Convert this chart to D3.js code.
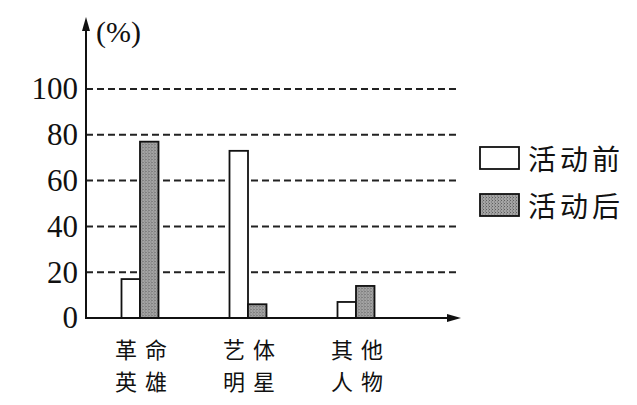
<!DOCTYPE html>
<html>
<head>
<meta charset="utf-8">
<script src="https://cdn.jsdelivr.net/npm/d3@7"></script>
<style>
  body { margin: 0; background: #fff; }
  svg { display: block; }
  .serif { font-family: "Liberation Serif", "Times New Roman", "DejaVu Serif", serif; }
</style>
</head>
<body>
<div id="chart"></div>
<script>
// data
const categories = [['革命', '英雄'], ['艺体', '明星'], ['其他', '人物']]
const series = ['活动前', '活动后']
const before = [17, 73, 7]
const after = [77, 6, 14]
const yTicks = [0, 20, 40, 60, 80, 100]

const width = 637, height = 405
const x0 = 86, yBase = 318

const svg = d3.select('#chart')
  .append('svg')
    .attr('width', width)
    .attr('height', height)

// stipple for the grey bars
const defs = svg.append('defs')
const pat = defs.append('pattern')
  .attr('id', 'dots')
  .attr('width', 3)
  .attr('height', 3)
  .attr('patternUnits', 'userSpaceOnUse')
pat.append('rect').attr('width', 3).attr('height', 3).attr('fill', '#a4a4a4')
pat.append('rect').attr('x', 0).attr('y', 0).attr('width', 1).attr('height', 1).attr('fill', '#5e5e5e')
pat.append('rect').attr('x', 2).attr('y', 1.5).attr('width', 1).attr('height', 1).attr('fill', '#6e6e6e')

const catKeys = categories.map(c => c.join(''))

const yScale = d3.scaleLinear()
  .domain([0, 100])
  .range([yBase, 89])

const xScale = d3.scaleBand()
  .domain(catKeys)
  .range([x0, 410])

const subScale = d3.scaleBand()
  .domain(series)
  .range([0, 37])

const fillScale = d3.scaleOrdinal()
  .domain(series)
  .range(['#fff', 'url(#dots)'])

// dashed grid
svg.append('g')
  .selectAll('line')
  .data(yTicks.filter(t => t > 0))
  .enter()
  .append('line')
    .attr('x1', x0)
    .attr('x2', 456)
    .attr('y1', d => yScale(d))
    .attr('y2', d => yScale(d))
    .style('stroke', '#222')
    .style('stroke-width', 2)
    .style('stroke-dasharray', '7,4')

// bars
const rows = catKeys.map((k, i) => ({ key: k, values: [before[i], after[i]] }))

const groups = svg.selectAll('g.grp')
  .data(rows)
  .enter()
  .append('g')
    .attr('class', 'grp')
    .attr('transform', d => `translate(${xScale(d.key) + xScale.bandwidth() / 2 - 18.5}, 0)`)

groups.selectAll('rect')
  .data(d => d.values.map((v, i) => ({ s: series[i], v: v })))
  .enter()
  .append('rect')
    .attr('x', d => subScale(d.s))
    .attr('y', d => yScale(d.v))
    .attr('width', subScale.bandwidth())
    .attr('height', d => yBase - yScale(d.v))
    .style('fill', d => fillScale(d.s))
    .style('stroke', '#111')
    .style('stroke-width', 1.8)

// y tick labels
const yAxis = d3.axisLeft(yScale)
  .tickValues(yTicks)
  .tickSize(0)
  .tickPadding(8)

svg.append('g')
  .attr('transform', `translate(${x0}, 0)`)
  .call(yAxis)
  .call(g => g.select('.domain').remove())
  .attr('font-family', null)
  .attr('font-size', null)
  .selectAll('text')
    .attr('class', 'serif')
    .style('font-size', '31px')
    .style('fill', '#111')

// axes with arrows
svg.append('line')
  .attr('x1', x0).attr('x2', x0)
  .attr('y1', yBase + 1).attr('y2', 26)
  .style('stroke', '#111').style('stroke-width', 2)
svg.append('path')
  .attr('d', `M${x0},17 L${x0 - 4},31 L${x0 + 4},31 Z`)
  .style('fill', '#111')

svg.append('line')
  .attr('x1', x0 - 1).attr('x2', 452)
  .attr('y1', yBase).attr('y2', yBase)
  .style('stroke', '#111').style('stroke-width', 2)
svg.append('path')
  .attr('d', `M461,${yBase} L447,${yBase - 4} L447,${yBase + 4} Z`)
  .style('fill', '#111')

svg.append('text')
  .attr('class', 'serif')
  .attr('x', 96)
  .attr('y', 42)
  .style('font-size', '30px')
  .style('fill', '#111')
  .text('(%)')

// category labels, two lines
const cjk = '"Noto Sans CJK SC", sans-serif'
groups.each(function(d, i) {
  const g = d3.select(this)
  categories[i].forEach((line, j) => {
    g.append('text')
      .attr('x', 18.5 + 5)
      .attr('y', 358 + j * 32)
      .attr('text-anchor', 'middle')
      .style('font-family', cjk)
      .style('font-size', '22px')
      .style('letter-spacing', '8px')
      .style('fill', '#111')
      .text(line)
  })
})

// legend
const legend = svg.selectAll('g.legend')
  .data(series)
  .enter()
  .append('g')
    .attr('class', 'legend')
    .attr('transform', (d, i) => `translate(480, ${147 + i * 47})`)

legend.append('rect')
  .attr('width', 39)
  .attr('height', 22)
  .style('fill', d => fillScale(d))
  .style('stroke', '#111')
  .style('stroke-width', 1.8)

legend.append('text')
  .attr('x', 48)
  .attr('y', 11)
  .attr('dominant-baseline', 'central')
  .style('font-family', cjk)
  .style('font-size', '28px')
  .style('letter-spacing', '4px')
  .style('fill', '#111')
  .text(d => d)
</script>
</body>
</html>
